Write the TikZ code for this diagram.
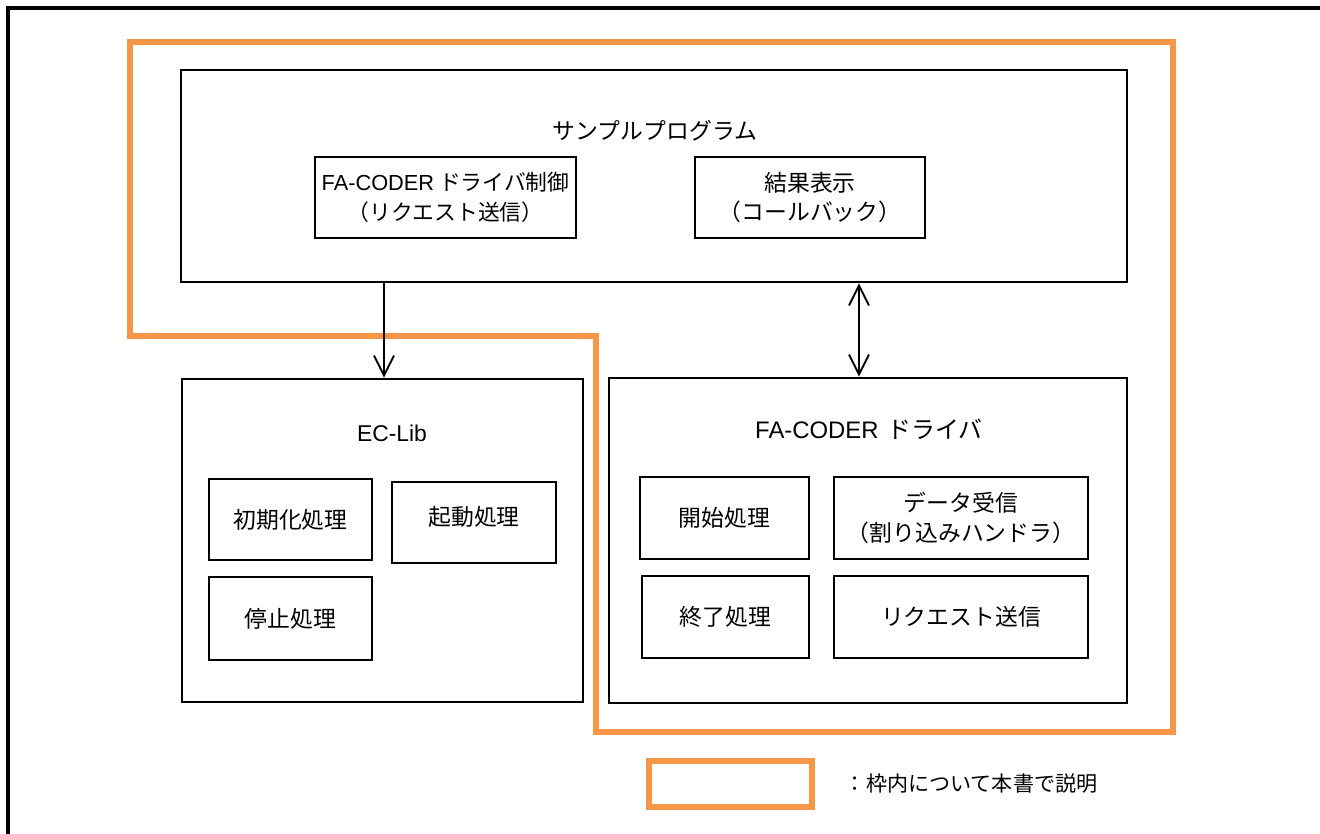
\documentclass[tikz,border=0pt]{standalone}
\usepackage{fontspec}
\setmainfont{Noto Sans CJK JP}
\newfontfamily\lat{Liberation Sans}
\usepackage{xcolor}
\usetikzlibrary{positioning,arrows.meta}
\definecolor{frameorange}{HTML}{F79646}

\begin{document}
\begin{tikzpicture}[x=0.02cm, y=-0.02cm,
        font=\fontsize{13pt}{17pt}\selectfont,
        box/.style={draw, line width=1.5pt, inner sep=0pt, align=center},
        title/.style={inner sep=0pt},
        arr/.style={line width=1.1pt, -{Straight Barb[length=4mm,width=4mm]}},
        darr/.style={line width=1.1pt, {Straight Barb[length=4mm,width=4mm]}-{Straight Barb[length=4mm,width=4mm]}}]
                            \useasboundingbox (0,0) rectangle (1320,834);
                            \draw[line width=2.2pt] (8,834) -- (8,8) -- (1320,8);
                            \draw[frameorange, line width=3pt] (130,42) -- (1173,42) -- (1173,732) -- (596,732) -- (596,336) -- (130,336) -- cycle;
                            \node (sample) [box, minimum width=18.92cm, minimum height=4.24cm] at (654,176) {};
                            \node (sampletitle) [title] at (655,131) {サンプルプログラム};
                            \node (ctrl) [box, minimum width=5.22cm, minimum height=1.62cm, font=\fontsize{12.4pt}{17pt}\selectfont] at (445.5,197.5) {{\lat FA-CODER} ドライバ制御\\（リクエスト送信）};
                            \node (result) [box, minimum width=4.6cm, minimum height=1.62cm] at (810,197.5) {結果表示\\（コールバック）};
                            \node (eclib) [box, minimum width=8.02cm, minimum height=6.46cm] at (382.5,540.5) {};
                            \node (ecltitle) [title] at (392,433) {\lat EC-Lib};
                            \node (init) [box, minimum width=3.26cm, minimum height=1.62cm] at (290.5,519.5) {初期化処理};
                            \node (boot) [box, minimum width=3.28cm, minimum height=1.62cm] at (474,522.5) {};
                            \node (boottext) [title] at (474,517) {起動処理};
                            \node (stop) [box, minimum width=3.26cm, minimum height=1.66cm] at (290.5,618.5) {停止処理};
                            \node (drv) [box, minimum width=10.36cm, minimum height=6.5cm] at (868,540.5) {};
                            \node (drvtitle) [title, font=\fontsize{13.6pt}{17pt}\selectfont] at (869,429) {{\lat FA-CODER}\hspace{0.18cm}ドライバ};
                            \node (open) [box, minimum width=3.38cm, minimum height=1.64cm] at (724.5,518) {開始処理};
                            \node (recv) [box, minimum width=5.08cm, minimum height=1.64cm] at (961,518) {データ受信\\（割り込みハンドラ）};
                            \node (close) [box, minimum width=3.34cm, minimum height=1.64cm] at (725.5,617) {終了処理};
                            \node (send) [box, minimum width=5.08cm, minimum height=1.64cm] at (961,617) {リクエスト送信};
                            \coordinate (dn) at (384,0);
                            \coordinate (bi) at (859,0);
                            \draw[arr] (sample.south -| dn) -- (eclib.north -| dn);
                            \draw[darr] (sample.south -| bi) -- (drv.north -| bi);
                            \node (legend) [draw=frameorange, line width=3pt, minimum width=3.26cm, minimum height=0.92cm] at (730.5,784) {};
                            \node (legendtext) [title, right=0.6cm of legend, font=\fontsize{12pt}{15pt}\selectfont] {：枠内について本書で説明};
                        \end{tikzpicture}
\end{document}
